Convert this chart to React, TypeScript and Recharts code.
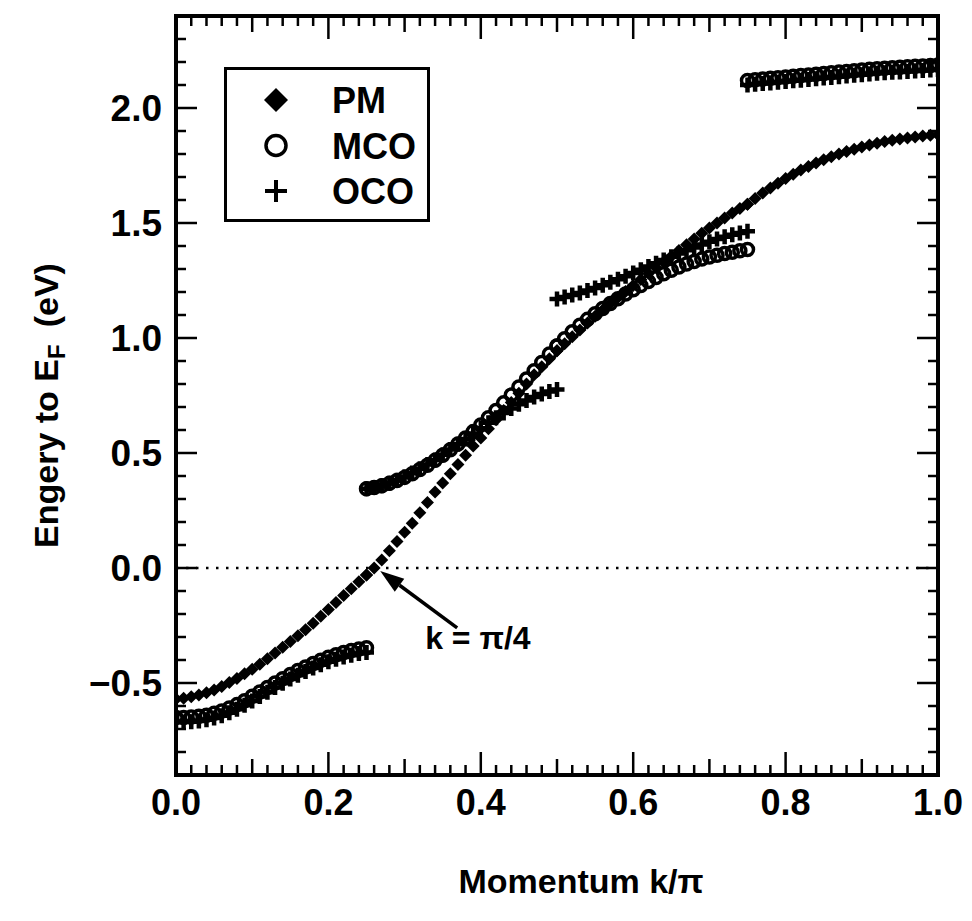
import { Legend, ReferenceDot, ReferenceLine, Scatter, ScatterChart, XAxis, YAxis } from 'recharts';

// momentum grid (k/pi), one array per quarter of the zone
const K_Q1 = [0, 0.01, 0.02, 0.03, 0.04, 0.05, 0.06, 0.07, 0.08, 0.09, 0.1, 0.11, 0.12, 0.13, 0.14, 0.15, 0.16, 0.17, 0.18, 0.19, 0.2, 0.21, 0.22, 0.23, 0.24, 0.25];
const K_Q2 = [0.25, 0.26, 0.27, 0.28, 0.29, 0.3, 0.31, 0.32, 0.33, 0.34, 0.35, 0.36, 0.37, 0.38, 0.39, 0.4, 0.41, 0.42, 0.43, 0.44, 0.45, 0.46, 0.47, 0.48, 0.49, 0.5];
const K_Q3 = [0.5, 0.51, 0.52, 0.53, 0.54, 0.55, 0.56, 0.57, 0.58, 0.59, 0.6, 0.61, 0.62, 0.63, 0.64, 0.65, 0.66, 0.67, 0.68, 0.69, 0.7, 0.71, 0.72, 0.73, 0.74, 0.75];
const K_Q4 = [0.75, 0.76, 0.77, 0.78, 0.79, 0.8, 0.81, 0.82, 0.83, 0.84, 0.85, 0.86, 0.87, 0.88, 0.89, 0.9, 0.91, 0.92, 0.93, 0.94, 0.95, 0.96, 0.97, 0.98, 0.99, 1];

// PM: single band across the whole zone (eV)
const PM_Q1 = [-0.57, -0.566, -0.56, -0.552, -0.542, -0.53, -0.515, -0.498, -0.48, -0.46, -0.44, -0.418, -0.395, -0.37, -0.345, -0.32, -0.295, -0.268, -0.24, -0.21, -0.18, -0.15, -0.12, -0.09, -0.06, -0.03];
const PM_Q2 = [-0.03, 0, 0.035, 0.075, 0.115, 0.155, 0.195, 0.24, 0.285, 0.33, 0.37, 0.41, 0.45, 0.49, 0.53, 0.565, 0.605, 0.645, 0.685, 0.72, 0.76, 0.8, 0.84, 0.875, 0.91, 0.945];
const PM_Q3 = [0.945, 0.975, 1.005, 1.035, 1.065, 1.095, 1.122, 1.15, 1.176, 1.202, 1.228, 1.254, 1.28, 1.305, 1.33, 1.355, 1.38, 1.405, 1.43, 1.455, 1.478, 1.5, 1.522, 1.543, 1.563, 1.582];
const PM_Q4 = [1.582, 1.607, 1.63, 1.652, 1.673, 1.693, 1.712, 1.73, 1.746, 1.761, 1.775, 1.788, 1.8, 1.811, 1.821, 1.83, 1.839, 1.847, 1.854, 1.86, 1.865, 1.87, 1.874, 1.878, 1.881, 1.884];

// MCO: folded bands
const MCO_Q1 = [-0.65, -0.65, -0.648, -0.645, -0.64, -0.632, -0.622, -0.609, -0.594, -0.577, -0.558, -0.539, -0.52, -0.5, -0.481, -0.463, -0.446, -0.43, -0.415, -0.401, -0.388, -0.377, -0.367, -0.359, -0.352, -0.347];
const MCO_Q2 = [0.345, 0.35, 0.358, 0.368, 0.38, 0.394, 0.41, 0.428, 0.447, 0.468, 0.49, 0.514, 0.539, 0.565, 0.593, 0.622, 0.653, 0.685, 0.718, 0.752, 0.787, 0.822, 0.858, 0.894, 0.93, 0.965];
const MCO_Q3 = [0.965, 0.997, 1.027, 1.055, 1.081, 1.105, 1.128, 1.15, 1.171, 1.191, 1.21, 1.228, 1.246, 1.263, 1.279, 1.295, 1.309, 1.322, 1.333, 1.343, 1.352, 1.36, 1.367, 1.373, 1.379, 1.385];
const MCO_Q4 = [2.12, 2.123, 2.126, 2.129, 2.132, 2.135, 2.138, 2.141, 2.144, 2.147, 2.15, 2.153, 2.156, 2.159, 2.162, 2.165, 2.168, 2.171, 2.173, 2.175, 2.177, 2.179, 2.181, 2.183, 2.185, 2.187];

// OCO: folded bands with a gap opening at k = pi/2
const OCO_Q1 = [-0.67, -0.67, -0.668, -0.665, -0.66, -0.652, -0.642, -0.629, -0.614, -0.597, -0.578, -0.559, -0.54, -0.52, -0.501, -0.483, -0.466, -0.45, -0.435, -0.421, -0.408, -0.397, -0.387, -0.379, -0.372, -0.367];
const OCO_Q2 = [0.345, 0.35, 0.358, 0.369, 0.382, 0.397, 0.413, 0.431, 0.45, 0.47, 0.492, 0.515, 0.538, 0.561, 0.585, 0.608, 0.631, 0.653, 0.674, 0.694, 0.712, 0.728, 0.743, 0.756, 0.767, 0.776];
const OCO_Q3 = [1.17, 1.178, 1.187, 1.196, 1.206, 1.217, 1.229, 1.242, 1.255, 1.269, 1.283, 1.297, 1.311, 1.325, 1.339, 1.353, 1.367, 1.381, 1.394, 1.407, 1.419, 1.43, 1.44, 1.449, 1.457, 1.464];
const OCO_Q4 = [2.1, 2.103, 2.106, 2.109, 2.112, 2.115, 2.118, 2.121, 2.124, 2.127, 2.13, 2.133, 2.136, 2.139, 2.142, 2.145, 2.148, 2.151, 2.153, 2.155, 2.157, 2.159, 2.161, 2.163, 2.165, 2.167];

const SERIES_ORDER = ['PM', 'MCO', 'OCO'];

const X_TICK_VALUES = [0, 0.2, 0.4, 0.6, 0.8, 1];
const X_TICK_LABELS = ['0.0', '0.2', '0.4', '0.6', '0.8', '1.0'];
const Y_TICK_VALUES = [-0.5, 0, 0.5, 1, 1.5, 2];
const Y_TICK_LABELS = ['\u22120.5', '0.0', '0.5', '1.0', '1.5', '2.0'];

// annotation: arrow pointing at the Fermi crossing
const ARROW_TAIL = { k: 0.369, e: -0.26 };
const ARROW_TIP = { k: 0.268, e: -0.013 };
const NOTE_POS = { k: 0.327, e: -0.353 };
const NOTE_TEXT = 'k = \u03c0/4';

const FONT = '"Liberation Sans", Arial, Helvetica, sans-serif';
const INK = '#000';

const pts = (ks: number[], es: number[]) => ks.map((k, i) => ({ k, e: es[i] }));

const pmData = [...pts(K_Q1, PM_Q1), ...pts(K_Q2, PM_Q2), ...pts(K_Q3, PM_Q3), ...pts(K_Q4, PM_Q4)];
const mcoData = [...pts(K_Q1, MCO_Q1), ...pts(K_Q2, MCO_Q2), ...pts(K_Q3, MCO_Q3), ...pts(K_Q4, MCO_Q4)];
const ocoData = [...pts(K_Q1, OCO_Q1), ...pts(K_Q2, OCO_Q2), ...pts(K_Q3, OCO_Q3), ...pts(K_Q4, OCO_Q4)];

const X_MINOR = Array.from({ length: 51 }, (_, i) => i / 50);
const Y_MINOR = Array.from({ length: 34 }, (_, i) => (i - 9) / 10);

function Diamond({ cx, cy, s = 6.5 }: { cx: number; cy: number; s?: number }) {
  return <polygon points={`${cx},${cy - s} ${cx + s},${cy} ${cx},${cy + s} ${cx - s},${cy}`} fill={INK} />;
}

function Ring({ cx, cy, r = 6, w = 3.5 }: { cx: number; cy: number; r?: number; w?: number }) {
  return <circle cx={cx} cy={cy} r={r} fill="none" stroke={INK} strokeWidth={w} />;
}

function Cross({ cx, cy, s = 7.5, w = 4.5 }: { cx: number; cy: number; s?: number; w?: number }) {
  return <path d={`M${cx - s},${cy}H${cx + s}M${cx},${cy - s}V${cy + s}`} stroke={INK} strokeWidth={w} fill="none" />;
}

const findLabel = (values: number[], labels: string[], v: number) => {
  const i = values.findIndex((t) => Math.abs(t - v) < 1e-6);
  return i >= 0 ? labels[i] : null;
};

function xTickLen(v: number) {
  const n = Math.round(v * 50);
  if (n % 10 === 0) return 23;
  if (n % 5 === 0) return 16;
  return 10;
}

function BottomTick(props: any) {
  const { x, y, payload } = props;
  const label = findLabel(X_TICK_VALUES, X_TICK_LABELS, payload.value);
  return (
    <g>
      <line x1={x} x2={x} y1={y} y2={y - xTickLen(payload.value)} stroke={INK} strokeWidth={2.5} />
      {label && (
        <text x={x} y={y + 40} textAnchor="middle" fontFamily={FONT} fontWeight="bold" fontSize={36} fill={INK}>
          {label}
        </text>
      )}
    </g>
  );
}

function TopTick(props: any) {
  const { x, y, payload } = props;
  return <line x1={x} x2={x} y1={y} y2={y + xTickLen(payload.value)} stroke={INK} strokeWidth={2.5} />;
}

function yTickLen(v: number) {
  return Math.round(v * 10) % 5 === 0 ? 21 : 10;
}

function LeftTick(props: any) {
  const { x, y, payload } = props;
  const label = findLabel(Y_TICK_VALUES, Y_TICK_LABELS, payload.value);
  return (
    <g>
      <line x1={x} x2={x + yTickLen(payload.value)} y1={y} y2={y} stroke={INK} strokeWidth={2.5} />
      {label && (
        <text x={x - 14} y={y + 13} textAnchor="end" fontFamily={FONT} fontWeight="bold" fontSize={37} fill={INK}>
          {label}
        </text>
      )}
    </g>
  );
}

function RightTick(props: any) {
  const { x, y, payload } = props;
  return <line x1={x} x2={x - yTickLen(payload.value)} y1={y} y2={y} stroke={INK} strokeWidth={2.5} />;
}

function XTitle(props: any) {
  const { viewBox } = props;
  return (
    <text x={viewBox.x + viewBox.width / 2 + 24} y={viewBox.y + 118} textAnchor="middle" fontFamily={FONT} fontWeight="bold" fontSize={34} fill={INK}>
      Momentum k/{'\u03c0'}
    </text>
  );
}

function YTitle(props: any) {
  const { viewBox } = props;
  const cx = viewBox.x - 18;
  const cy = viewBox.y + viewBox.height / 2 + 10;
  return (
    <text
      x={cx}
      y={cy}
      transform={`rotate(-90, ${cx}, ${cy})`}
      textAnchor="middle"
      fontFamily={FONT}
      fontWeight="bold"
      fontSize={34}
      fill={INK}
    >
      Engery to E
      <tspan fontSize={24} dy={7}>F</tspan>
      <tspan dy={-7}>{'\u2002(eV)'}</tspan>
    </text>
  );
}

function ArrowShape(props: any) {
  const { x1, y1, x2, y2 } = props;
  const a = Math.atan2(y2 - y1, x2 - x1);
  const len = 24;
  const half = 8;
  const bx = x2 - len * Math.cos(a);
  const by = y2 - len * Math.sin(a);
  const nx = -Math.sin(a) * half;
  const ny = Math.cos(a) * half;
  return (
    <g>
      <line x1={x1} y1={y1} x2={bx} y2={by} stroke={INK} strokeWidth={3.5} />
      <polygon points={`${x2},${y2} ${bx + nx},${by + ny} ${bx - nx},${by - ny}`} fill={INK} />
    </g>
  );
}

const LEGEND_MARKS: Record<string, (cx: number, cy: number) => JSX.Element> = {
  PM: (cx, cy) => <Diamond cx={cx} cy={cy} s={12} />,
  MCO: (cx, cy) => <Ring cx={cx} cy={cy} r={10} w={3.5} />,
  OCO: (cx, cy) => <Cross cx={cx} cy={cy} s={11} w={4} />,
};

function LegendBox(props: any) {
  const payload = [...(props.payload || [])].sort(
    (a: any, b: any) => SERIES_ORDER.indexOf(a.value) - SERIES_ORDER.indexOf(b.value),
  );
  return (
    <svg width={206} height={155} style={{ display: 'block' }}>
      <rect x={1.5} y={1.5} width={203} height={152} fill="#fff" stroke={INK} strokeWidth={3} />
      {payload.map((item: any, i: number) => {
        const cy = 33 + i * 45.5;
        const mark = LEGEND_MARKS[item.value];
        return (
          <g key={item.value}>
            {mark && mark(52, cy)}
            <text x={108} y={cy + 13} fontFamily={FONT} fontWeight="bold" fontSize={36} fill={INK}>
              {item.value}
            </text>
          </g>
        );
      })}
    </svg>
  );
}

const frame = { stroke: INK, strokeWidth: 4, strokeLinecap: 'square' as const };

export default function App() {
  return (
    <div style={{ position: 'absolute', left: 0, top: 0, width: 972, height: 921, background: '#fff' }}>
      <ScatterChart width={972} height={921} margin={{ top: 15, right: 33, bottom: 26, left: 76 }}>
        <XAxis
          type="number"
          dataKey="k"
          domain={[0, 1]}
          allowDataOverflow
          ticks={X_MINOR}
          interval={0}
          height={120}
          tickLine={false}
          tickSize={0}
          tickMargin={0}
          axisLine={frame}
          tick={BottomTick}
          label={XTitle}
        />
        <XAxis
          xAxisId="top"
          orientation="top"
          type="number"
          dataKey="k"
          domain={[0, 1]}
          allowDataOverflow
          ticks={X_MINOR}
          interval={0}
          height={1}
          tickLine={false}
          tickSize={0}
          tickMargin={0}
          axisLine={frame}
          tick={TopTick}
        />
        <YAxis
          type="number"
          dataKey="e"
          domain={[-0.9, 2.4]}
          allowDataOverflow
          ticks={Y_MINOR}
          interval={0}
          width={100}
          tickLine={false}
          tickSize={0}
          tickMargin={0}
          axisLine={frame}
          tick={LeftTick}
          label={YTitle}
        />
        <YAxis
          yAxisId="right"
          orientation="right"
          type="number"
          dataKey="e"
          domain={[-0.9, 2.4]}
          allowDataOverflow
          ticks={Y_MINOR}
          interval={0}
          width={1}
          tickLine={false}
          tickSize={0}
          tickMargin={0}
          axisLine={frame}
          tick={RightTick}
        />
        <ReferenceLine y={0} stroke={INK} strokeWidth={2.5} strokeDasharray="2.5 7.5" />
        <Scatter name="PM" data={pmData} isAnimationActive={false} shape={(p: any) => <Diamond cx={p.cx} cy={p.cy} />} />
        <Scatter name="MCO" data={mcoData} isAnimationActive={false} shape={(p: any) => <Ring cx={p.cx} cy={p.cy} />} />
        <Scatter name="OCO" data={ocoData} isAnimationActive={false} shape={(p: any) => <Cross cx={p.cx} cy={p.cy} />} />
        <ReferenceLine
          segment={[
            { x: ARROW_TAIL.k, y: ARROW_TAIL.e },
            { x: ARROW_TIP.k, y: ARROW_TIP.e },
          ]}
          shape={ArrowShape}
        />
        <ReferenceDot
          x={NOTE_POS.k}
          y={NOTE_POS.e}
          r={0}
          shape={(p: any) => (
            <text x={p.cx} y={p.cy} fontFamily={FONT} fontWeight="bold" fontSize={32} fill={INK}>
              {NOTE_TEXT}
            </text>
          )}
        />
        <Legend
          layout="vertical"
          align="center"
          verticalAlign="middle"
          wrapperStyle={{ left: 224, top: 67, width: 206, height: 155 }}
          content={LegendBox}
        />
      </ScatterChart>
    </div>
  );
}
